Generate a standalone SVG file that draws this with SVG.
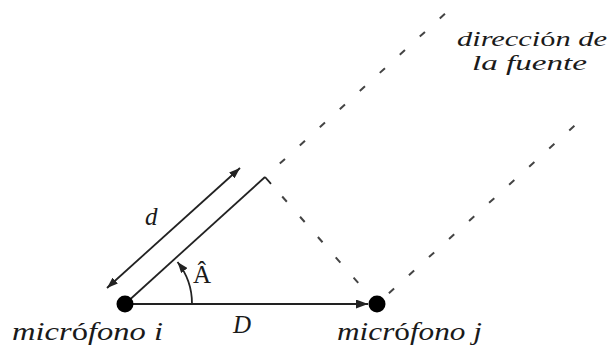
<svg xmlns="http://www.w3.org/2000/svg" width="612" height="345" viewBox="0 0 612 345">
<style>
.ln{stroke:#222;stroke-width:1.8;fill:none}
.ds{stroke:#444;stroke-width:2;fill:none;stroke-dasharray:7 20}
.t{font-family:"Liberation Serif","Times New Roman",serif;font-style:italic;font-size:25px;fill:#1a1a1a}
.s{font-size:21.5px}
.u{font-style:normal}
.dot{fill:#000}
</style>
<defs>
<marker id="ah" markerUnits="userSpaceOnUse" markerWidth="13" markerHeight="9" refX="12" refY="4.5" orient="auto">
<path d="M0,0 L12,4.5 L0,9 z" fill="#222"/>
</marker>
<marker id="ahs" markerUnits="userSpaceOnUse" markerWidth="12" markerHeight="8" refX="11" refY="4" orient="auto-start-reverse">
<path d="M0,0 L11,4 L0,8 z" fill="#222"/>
</marker>
</defs>
<g id="connectors">
<line id="baseline-D" class="ln" x1="125" y1="304" x2="368" y2="304" marker-end="url(#ah)"/>
<line id="source-i" class="ln" x1="125" y1="304" x2="265" y2="177"/>
<line id="right-angle-tick" class="ln" x1="265" y1="177" x2="271" y2="183.8"/>
<line id="arrow-d" class="ln" x1="107" y1="288" x2="240" y2="168" marker-start="url(#ahs)" marker-end="url(#ahs)"/>
<path id="angle-arc" class="ln" d="M192,304 A67,67 0 0 0 177.5,262" marker-end="url(#ahs)"/>
<line id="dir-i" class="ds" x1="279.8" y1="163.6" x2="445" y2="13.7"/>
<line id="perp" class="ds" x1="282.2" y1="196.5" x2="358.2" y2="282.8"/>
<line id="dir-j" class="ds" x1="388.9" y1="293.3" x2="574.4" y2="125.8"/>
</g>
<g id="mic-i">
<circle class="dot" cx="125" cy="304" r="8.5"/>
<text class="t" x="12" y="340" textLength="151" lengthAdjust="spacingAndGlyphs">micr<tspan class="u">ó</tspan>fono i</text>
</g>
<g id="mic-j">
<circle class="dot" cx="377" cy="304" r="8.5"/>
<text class="t" x="337" y="340" textLength="145" lengthAdjust="spacingAndGlyphs">micr<tspan class="u">ó</tspan>fono j</text>
</g>
<g id="labels">
<text class="t" x="145" y="225">d</text>
<text class="t" x="233" y="333">D</text>
<text class="t u" x="193" y="283" font-size="24">Â</text>
<text class="t s" x="457" y="46" textLength="150" lengthAdjust="spacingAndGlyphs">direcci<tspan class="u">ó</tspan>n de</text>
<text class="t s" x="472" y="70" textLength="115" lengthAdjust="spacingAndGlyphs">la fuente</text>
</g>
</svg>
